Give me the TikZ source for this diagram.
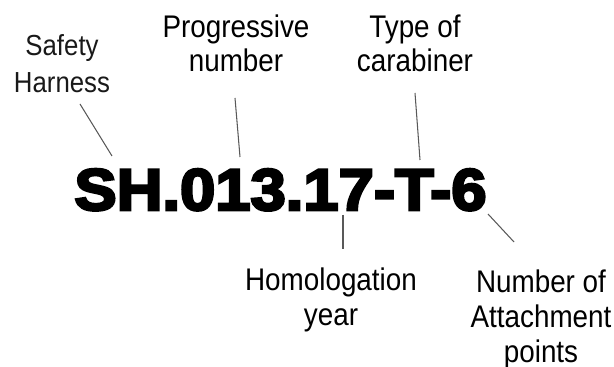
\documentclass[tikz,border=0pt]{standalone}
\usepackage{fontspec}
\newfontfamily\labelfont[FakeStretch=0.89]{Liberation Sans}
\newfontfamily\codefont[FakeStretch=1.08,FakeBold=4.5]{Liberation Sans Bold}
\begin{document}
\begin{tikzpicture}
     [x=0.02cm, y=-0.02cm,
     textbox/.style={inner sep=0pt, align=center, anchor=base, font=\labelfont\fontsize{17.8}{19.9}\selectfont},
     smallbox/.style={inner sep=0pt, align=center, anchor=base, text=black!90, font=\labelfont\fontsize{16.5}{21.6}\selectfont},
     codebox/.style={inner sep=0pt, anchor=base, font=\codefont\fontsize{33.4}{36}\selectfont},
     pointer/.style={draw=black!65, line width=0.6pt},
     ]
 \useasboundingbox (0,0) rectangle (614,367);
 \node at (280.5,210) [codebox] (code) {SH.013.17-T-6};
 % base anchor sits on the last line
 \node at (62,93) [smallbox] (safety) {Safety\\Harness};
 \node at (236,72) [textbox] (prog) {Progressive\\number};
 \node at (415,72) [textbox] (type) {Type of\\carabiner};
 \node at (331,325) [textbox] (year) {Homologation\\year};
 \node at (541,362) [textbox] (attach) {Number of\\Attachment\\points};
 % connector ends
 \coordinate (safety-a) at (80,104);   \coordinate (safety-b) at (112,156);
 \coordinate (prog-a) at (235,98);     \coordinate (prog-b) at (240,157);
 \coordinate (type-a) at (415,93);     \coordinate (type-b) at (420,160);
 \coordinate (year-a) at (343,215);    \coordinate (year-b) at (343,249);
 \coordinate (attach-a) at (488,214);  \coordinate (attach-b) at (514,242);
 \draw[pointer] (safety-a) -- (safety-b);
 \draw[pointer] (prog-a) -- (prog-b);
 \draw[pointer] (type-a) -- (type-b);
 \draw[pointer] (year-a) -- (year-b);
 \draw[pointer] (attach-a) -- (attach-b);
 \end{tikzpicture}
\end{document}
